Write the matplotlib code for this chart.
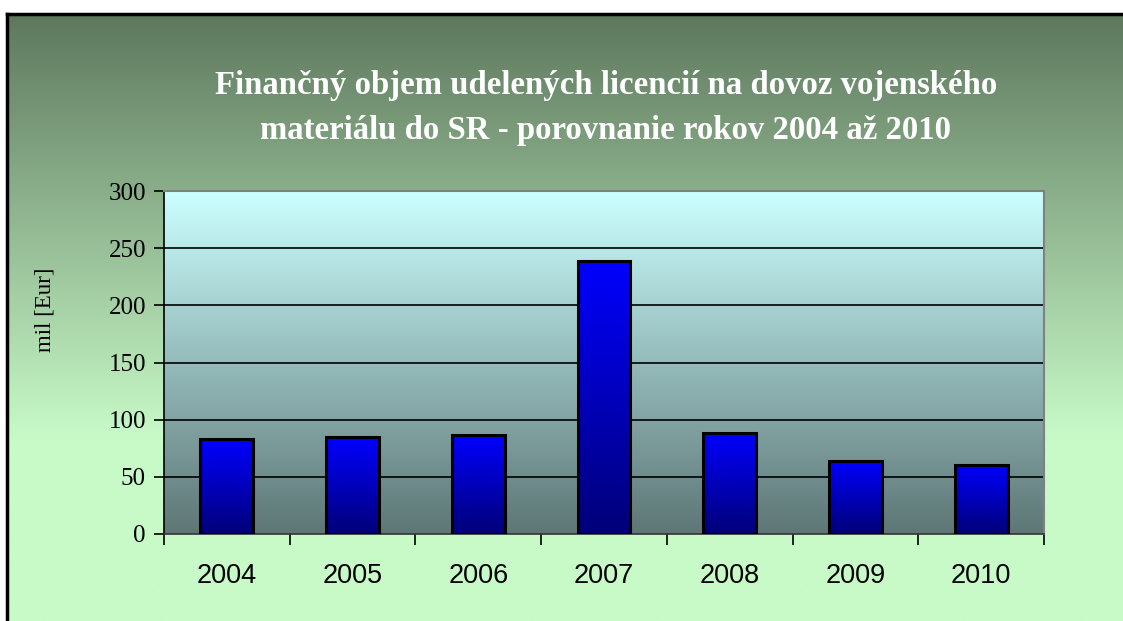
import numpy as np
import matplotlib
matplotlib.use("Agg")
import matplotlib.pyplot as plt
from matplotlib.colors import LinearSegmentedColormap

years = ["2004", "2005", "2006", "2007", "2008", "2009", "2010"]
values = [82.8, 84.6, 86.6, 238.8, 88.4, 63.9, 60.4]
yticks = [0, 50, 100, 150, 200, 250, 300]
title = "Finančný objem udelených licencií na dovoz vojenského\nmateriálu do SR - porovnanie rokov 2004 až 2010"
ylabel = "mil [Eur]"

W, H = 1123, 621
fig = plt.figure(figsize=(W / 100, H / 100), dpi=100)
fig.patch.set_facecolor("white")

# background chart area with gradient
bx0, by1 = 7, 14
bg = fig.add_axes([bx0 / W, 0, 1 - bx0 / W, 1 - by1 / H])
bg.set_axis_off()
n = 256
t = np.linspace(0, 1, n)
top = np.array([94, 120, 94]) / 255
bot = np.array([200, 250, 200]) / 255
f = np.clip(t / 0.70, 0, 1)[:, None]
grad = top * (1 - f) + bot * f
bg.imshow(grad[:, None, :], aspect="auto", extent=[0, 1, 0, 1], origin="upper", interpolation="bilinear")
bg.set_xlim(0, 1)
bg.set_ylim(0, 1)
bg.plot([0, 0], [0, 1], color="black", lw=2.5, transform=bg.transAxes, clip_on=False)
bg.plot([0, 1], [1, 1], color="black", lw=2.5, transform=bg.transAxes, clip_on=False)

# plot axes
L, T, R, B = 164, 191, 1044, 534
ax = fig.add_axes([L / W, (H - B) / H, (R - L) / W, (B - T) / H])
ax.set_xlim(-0.5, len(years) - 0.5)
ax.set_ylim(0, 300)

pa_cmap = LinearSegmentedColormap.from_list("pa", ["#ccffff", "#5e7676"])
ax.imshow(np.linspace(0, 1, 256)[:, None], cmap=pa_cmap, aspect="auto",
          extent=[-0.5, len(years) - 0.5, 0, 300], origin="upper", zorder=0,
          interpolation="bilinear")

for yv in yticks[1:-1]:
    ax.axhline(yv, color="black", lw=1.2, zorder=1)

x = np.arange(len(years))
bars = ax.bar(x, values, width=0.42, facecolor="none", edgecolor="black", lw=2.2, zorder=3)
bar_cmap = LinearSegmentedColormap.from_list("bar", ["#0000ff", "#000078"])
for b in bars:
    x0, y0 = b.get_x(), b.get_y()
    w, h = b.get_width(), b.get_height()
    im = ax.imshow(np.linspace(0, 1, 256)[:, None], cmap=bar_cmap, aspect="auto",
                   extent=[x0, x0 + w, y0, y0 + h], origin="upper", zorder=2,
                   interpolation="bilinear")
    im.set_clip_path(b)
ax.set_xlim(-0.5, len(years) - 0.5)
ax.set_ylim(0, 300)

for s in ["top", "right"]:
    ax.spines[s].set_color("#808080")
    ax.spines[s].set_linewidth(1.5)
ax.spines["left"].set_color("black")
ax.spines["bottom"].set_color("#333333")
ax.spines["left"].set_linewidth(1.2)
ax.spines["bottom"].set_linewidth(1.2)

ax.set_yticks(yticks)
ax.set_yticklabels([str(v) for v in yticks], fontfamily="Liberation Serif", fontsize=18)
ax.tick_params(axis="y", direction="out", length=7, width=1.2, pad=6)
ax.set_xticks(x)
ax.set_xticklabels(years, fontfamily="Liberation Sans", fontsize=19.5)
ax.tick_params(axis="x", which="major", length=0, pad=21)
ax.set_xticks(np.arange(-0.5, len(years), 1), minor=True)
ax.tick_params(axis="x", which="minor", direction="out", length=8, width=1.2)

fig.text(606 / W, 1 - 108 / H, title, ha="center", va="center", color="white",
         fontfamily="Liberation Serif", fontweight="bold", fontsize=23.6, linespacing=1.6)
fig.text(45 / W, 1 - 310 / H, ylabel, ha="center", va="center", rotation=90,
         fontfamily="Liberation Serif", fontsize=16.5)

fig.savefig("out.png", dpi=100, facecolor="white")
